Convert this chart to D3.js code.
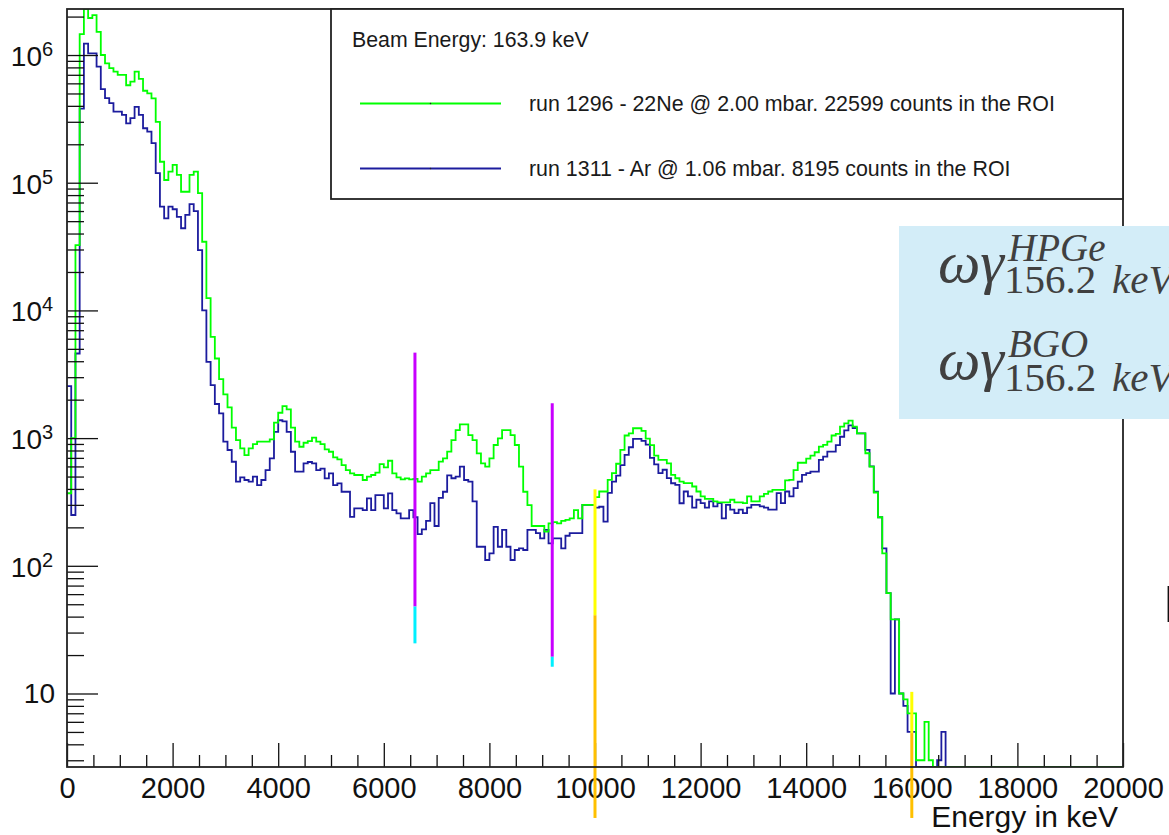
<!DOCTYPE html>
<html>
<head>
<meta charset="utf-8">
<script src="https://cdn.jsdelivr.net/npm/d3@7"></script>
<style>
  html, body { margin: 0; padding: 0; background: #ffffff; }
  svg { display: block; }
</style>
</head>
<body>
<svg id="chart" width="1169" height="835"></svg>
<script>
// Spectrum binning: 250 bins of 80 keV between 0 and 20000 keV
const energyMin = 0;
const energyMax = 20000;
const binCount = 250;

// run 1296 - 22Ne @ 2.00 mbar (counts per bin)
const countsNe22 = [
  370, 1000, 32500, 1460000, 2300000, 1950000, 2050000, 1520000, 1000000, 860000,
  790000, 740000, 700000, 700000, 580000, 620000, 740000, 650000, 525000, 500000,
  458000, 300000, 146000, 105000, 122000, 138000, 115000, 85000, 85000, 115000,
  122000, 83000, 34500, 12500, 6200, 4200, 2900, 2200, 1740, 1210,
  966, 830, 736, 830, 898, 937, 937, 937, 977, 1320,
  1580, 1780, 1680, 1210, 937, 856, 920, 948, 1010, 937,
  898, 815, 782, 706, 681, 615, 562, 530, 514, 514,
  470, 499, 514, 536, 626, 590, 665, 530, 493, 476,
  484, 476, 480, 456, 499, 530, 562, 562, 654, 694,
  783, 966, 1156, 1280, 1280, 1057, 966, 760, 634, 597,
  694, 883, 995, 1156, 1156, 1057, 883, 597, 380, 299,
  205, 205, 205, 185, 215, 220, 215, 225, 229, 235,
  273, 235, 300, 300, 300, 345, 382, 382, 471, 531,
  630, 810, 1048, 1090, 1195, 1195, 1140, 990, 880, 730,
  675, 675, 635, 516, 485, 457, 444, 444, 418, 382,
  350, 334, 334, 320, 314, 314, 314, 329, 314, 314,
  310, 350, 320, 320, 350, 366, 382, 393, 393, 393,
  466, 471, 562, 641, 641, 690, 730, 775, 859, 885,
  940, 1048, 1078, 1230, 1305, 1370, 1230, 1091, 1091, 761,
  599, 375, 240, 125, 61, 38, 38, 10, 9, 7,
  7, 3, 3, 6, 3, 0, 0, 0, 0, 0,
  0, 0, 0, 0, 0, 0, 0, 0, 0, 0,
  0, 0, 0, 0, 0, 0, 0, 0, 0, 0,
  0, 0, 0, 0, 0, 0, 0, 0, 0, 0,
  0, 0, 0, 0, 0, 0, 0, 0, 0, 0
];

// run 1311 - Ar @ 1.06 mbar (counts per bin)
const countsAr = [
  2550, 250, 4600, 380000, 1230000, 1030000, 1030000, 810000, 540000, 460000,
  420000, 360000, 360000, 340000, 292000, 320000, 393000, 340000, 267000, 251000,
  204000, 119000, 65000, 52600, 65000, 62000, 54000, 44000, 56000, 68000,
  60000, 29700, 10000, 3950, 2600, 1850, 1560, 937, 807, 653,
  456, 493, 470, 456, 499, 429, 470, 562, 695, 1120,
  1380, 1350, 1120, 782, 546, 546, 634, 650, 634, 562,
  576, 484, 530, 429, 442, 380, 380, 242, 282, 282,
  273, 337, 273, 358, 358, 282, 369, 273, 257, 235,
  235, 273, 240, 177, 193, 225, 310, 205, 340, 380,
  510, 485, 499, 597, 470, 456, 320, 141, 141, 111,
  125, 202, 141, 191, 141, 111, 133, 137, 133, 191,
  191, 180, 164, 191, 150, 164, 164, 137, 172, 180,
  180, 180, 300, 300, 300, 285, 290, 222, 372, 457,
  508, 614, 738, 848, 988, 988, 950, 890, 700, 622,
  531, 565, 486, 443, 430, 309, 382, 350, 285, 329,
  310, 285, 320, 292, 310, 235, 300, 275, 259, 275,
  259, 285, 300, 300, 292, 285, 275, 275, 371, 310,
  382, 350, 406, 457, 516, 531, 547, 547, 675, 716,
  785, 785, 880, 1025, 1150, 1260, 1200, 1091, 1091, 810,
  600, 380, 240, 137, 61, 10, 38, 10, 8, 5,
  5, 0, 0, 0, 0, 0, 3, 5, 0, 0,
  0, 0, 0, 0, 0, 0, 0, 0, 0, 0,
  0, 0, 0, 0, 0, 0, 0, 0, 0, 0,
  0, 0, 0, 0, 0, 0, 0, 0, 0, 0,
  0, 0, 0, 0, 0, 0, 0, 0, 0, 0
];

// Axis ticks
const xMajorTicks = [0, 2000, 4000, 6000, 8000, 10000, 12000, 14000, 16000, 18000, 20000];
const xTickLabels = ["0", "2000", "4000", "6000", "8000", "10000", "12000", "14000", "16000", "18000", "20000"];
const yDecades = [1, 2, 3, 4, 5, 6];           // 10^1 ... 10^6
const yRange = [2.657, 2.293e6];               // visible count range

// Region-of-interest markers (energy in keV, counts for segment ends)
const markerEnergy = [6590, 9190, 10000, 16000];
const markerTop    = [4670, 1875, 397, 10.3];
const markerSplit  = [48, 19.4, 41, 4.9];
const markerBottom = [24.7, 16.2, 1.06, 1.06];
const markerUpperColor = ["#c800ff", "#c800ff", "#ffff00", "#ffff00"];
const markerLowerColor = ["#00f0ff", "#00f0ff", "#ffc000", "#ffc000"];

// Legend
const legendTitle = "Beam Energy: 163.9 keV";
const legendLabels = [
  "run 1296 - 22Ne @ 2.00 mbar. 22599 counts in the ROI",
  "run 1311 - Ar @ 1.06 mbar. 8195 counts in the ROI"
];
const seriesColors = ["#00ff00", "#1c1c9e"];

// ---------------------------------------------------------------------------
const svg = d3.select("#chart");
const frame = { left: 67, right: 1123, top: 9, bottom: 767 };
const sansFont = "'Liberation Sans', Arial, Helvetica, sans-serif";
const serifFont = "'Liberation Serif', 'DejaVu Serif', serif";

svg.append("rect").attr("width", 1169).attr("height", 835).attr("fill", "#ffffff");

const x = d3.scaleLinear().domain([energyMin, energyMax]).range([frame.left, frame.right]);
const y = d3.scaleLog().domain(yRange).range([frame.bottom, frame.top]);
const binWidth = (energyMax - energyMin) / binCount;

svg.append("clipPath").attr("id", "plotClip")
  .append("rect")
  .attr("x", frame.left).attr("y", frame.top)
  .attr("width", frame.right - frame.left).attr("height", frame.bottom - frame.top);

// Histogram outline as a step line; empty bins sit on the lower frame edge
function stepPoints(counts) {
  const pts = counts.map((c, i) => [energyMin + i * binWidth, Math.max(c, yRange[0])]);
  pts.push([energyMax, Math.max(counts[counts.length - 1], yRange[0])]);
  return pts;
}
const stepLine = d3.line()
  .x(d => x(d[0]))
  .y(d => y(d[1]))
  .curve(d3.curveStepAfter);

const plot = svg.append("g").attr("clip-path", "url(#plotClip)");
[countsAr, countsNe22].forEach((counts, k) => {
  plot.append("path")
    .datum(stepPoints(counts))
    .attr("d", stepLine)
    .attr("fill", "none")
    .attr("stroke", k === 0 ? seriesColors[1] : seriesColors[0])
    .attr("stroke-width", 1.8)
    .attr("stroke-linejoin", "miter");
});

// Axes: ticks drawn inward, ROOT style
const xMinorTicks = d3.range(0, energyMax + 1, 500).filter(v => v % 2000 !== 0);
const xAxisG = svg.append("g").attr("transform", `translate(0,${frame.bottom})`);
xAxisG.append("g")
  .call(d3.axisBottom(x).tickValues(xMinorTicks).tickSize(-12).tickFormat(""))
  .call(s => s.select(".domain").remove());
xAxisG.append("g")
  .call(d3.axisBottom(x).tickValues(xMajorTicks).tickSize(-24)
    .tickFormat((d, i) => xTickLabels[i]))
  .call(s => s.select(".domain").remove())
  .call(s => s.selectAll("text")
    .attr("y", 31).attr("dy", 0)
    .attr("fill", "#111")
    .style("font-family", sansFont).style("font-size", "29px"));
xAxisG.selectAll("line").attr("stroke", "#111").attr("stroke-width", 1.3);

const yMajorValues = [10, 100, 1000, 1e4, 1e5, 1e6];
const yMinorValues = [];
for (let p = 0; p <= 6; p++) {
  for (let m = 2; m <= 9; m++) {
    const v = m * Math.pow(10, p);
    if (v >= yRange[0] && v <= yRange[1]) yMinorValues.push(v);
  }
}
const yAxisG = svg.append("g").attr("transform", `translate(${frame.left},0)`);
yAxisG.append("g")
  .call(d3.axisLeft(y).tickValues(yMinorValues).tickSize(-17).tickFormat(""))
  .call(s => s.select(".domain").remove());
yAxisG.append("g")
  .call(d3.axisLeft(y).tickValues(yMajorValues).tickSize(-31).tickFormat(""))
  .call(s => s.select(".domain").remove());
yAxisG.selectAll("line").attr("stroke", "#111").attr("stroke-width", 1.3);

// Decade labels: plain "10" and 10^n with a raised exponent
const yLabels = svg.append("g").attr("fill", "#111").style("font-family", sansFont);
yDecades.forEach(n => {
  const ty = y(Math.pow(10, n));
  if (n === 1) {
    yLabels.append("text").attr("x", 55).attr("y", ty + 10)
      .attr("text-anchor", "end").style("font-size", "28px").text("10");
  } else {
    yLabels.append("text").attr("x", 42).attr("y", ty + 11)
      .attr("text-anchor", "end").style("font-size", "28px").text("10");
    yLabels.append("text").attr("x", 42).attr("y", ty + 1)
      .attr("text-anchor", "start").style("font-size", "20px").text(String(n));
  }
});

// Axis title
svg.append("text")
  .attr("x", 1118).attr("y", 827)
  .attr("text-anchor", "end")
  .attr("fill", "#111")
  .style("font-family", sansFont).style("font-size", "30px")
  .text("Energy in keV");

// ROI marker lines
const markers = svg.append("g");
markerEnergy.forEach((e, i) => {
  markers.append("line")
    .attr("x1", x(e)).attr("x2", x(e))
    .attr("y1", y(markerTop[i])).attr("y2", y(markerSplit[i]))
    .attr("stroke", markerUpperColor[i]).attr("stroke-width", 3);
  markers.append("line")
    .attr("x1", x(e)).attr("x2", x(e))
    .attr("y1", y(markerSplit[i])).attr("y2", y(markerBottom[i]))
    .attr("stroke", markerLowerColor[i]).attr("stroke-width", 3);
});

// Frame
svg.append("rect")
  .attr("x", frame.left).attr("y", frame.top)
  .attr("width", frame.right - frame.left).attr("height", frame.bottom - frame.top)
  .attr("fill", "none").attr("stroke", "#222").attr("stroke-width", 1.8);

// Legend box
const legend = svg.append("g");
legend.append("rect")
  .attr("x", 331).attr("y", frame.top)
  .attr("width", frame.right - 331).attr("height", 199 - frame.top)
  .attr("fill", "#ffffff").attr("stroke", "#222").attr("stroke-width", 1.8);
legend.append("text")
  .attr("x", 352).attr("y", 47)
  .attr("fill", "#1a1a1a")
  .style("font-family", sansFont).style("font-size", "21.3px")
  .text(legendTitle);
const legendRowY = [103.5, 168.5];
legendLabels.forEach((label, i) => {
  legend.append("line")
    .attr("x1", 360).attr("x2", 501)
    .attr("y1", legendRowY[i]).attr("y2", legendRowY[i])
    .attr("stroke", seriesColors[i]).attr("stroke-width", 1.8);
  legend.append("circle")
    .attr("cx", 430.5).attr("cy", legendRowY[i]).attr("r", 0.8)
    .attr("fill", "#222");
  legend.append("text")
    .attr("x", 529).attr("y", legendRowY[i] + 7.5)
    .attr("fill", "#1a1a1a")
    .style("font-family", sansFont).style("font-size", "21.4px")
    .text(label);
});

// Resonance strength box (overlaid on the right side)
const box = svg.append("g");
box.append("rect")
  .attr("x", 899).attr("y", 226)
  .attr("width", 1169 - 899).attr("height", 419 - 226)
  .attr("fill", "#d3edf8");
const formulaRows = [
  { base: 282, sup: 261, sub: 293, detector: "HPGe" },
  { base: 379, sup: 357, sub: 391, detector: "BGO" }
];
formulaRows.forEach(r => {
  box.append("text")
    .attr("x", 938).attr("y", r.base)
    .attr("fill", "#404040")
    .style("font-family", serifFont).style("font-style", "italic").style("font-size", "60px")
    .text("ωγ");
  box.append("text")
    .attr("x", 1008).attr("y", r.sup)
    .attr("fill", "#404040")
    .style("font-family", serifFont).style("font-style", "italic").style("font-size", "39px")
    .text(r.detector);
  box.append("text")
    .attr("x", 1004).attr("y", r.sub)
    .attr("fill", "#404040")
    .style("font-family", serifFont).style("font-size", "41px")
    .text("156.2");
  box.append("text")
    .attr("x", 1112).attr("y", r.sub)
    .attr("fill", "#404040")
    .style("font-family", serifFont).style("font-style", "italic").style("font-size", "41px")
    .text("keV");
});

// Edge of a neighbouring label
svg.append("text")
  .attr("x", 1163).attr("y", 622)
  .attr("fill", "#111")
  .style("font-family", "Lato, sans-serif").style("font-size", "50px")
  .text("B");
</script>
</body>
</html>
